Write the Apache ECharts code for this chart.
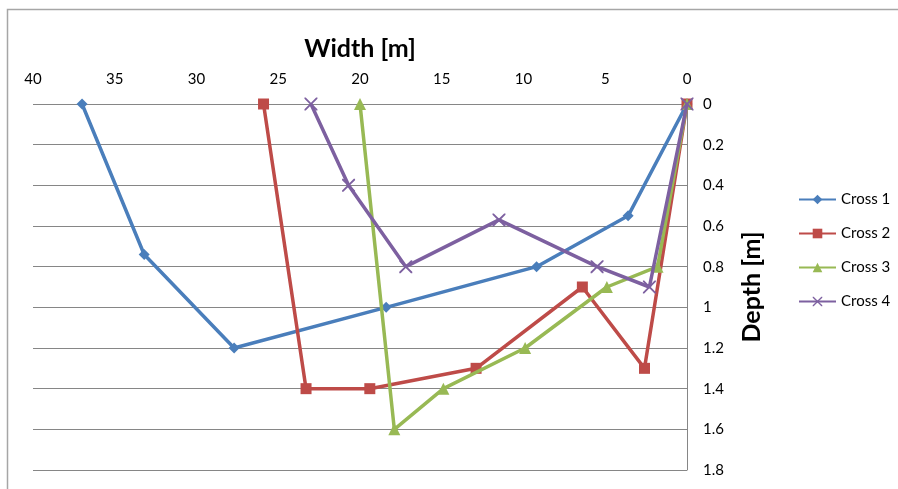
<!DOCTYPE html>
<html>
<head>
<meta charset="utf-8">
<script src="https://cdn.jsdelivr.net/npm/echarts@6/dist/echarts.min.js"></script>
<style>
  html, body { margin: 0; padding: 0; background: #fff; }
  #chart { width: 898px; height: 489px; }
</style>
</head>
<body>
<div id="chart"></div>
<script>
// Cross-section profiles: [width (m), depth (m)]
const cross1 = [[37, 0], [33.2, 0.74], [27.7, 1.2], [18.4, 1.0], [9.2, 0.8], [3.6, 0.55], [0, 0]];
const cross2 = [[25.9, 0], [23.3, 1.4], [19.4, 1.4], [12.9, 1.3], [6.4, 0.9], [2.6, 1.3], [0, 0]];
const cross3 = [[20, 0], [17.9, 1.6], [14.9, 1.4], [9.9, 1.2], [4.9, 0.9], [1.8, 0.8], [0, 0]];
const cross4 = [[23, 0], [20.7, 0.4], [17.2, 0.8], [11.5, 0.57], [5.5, 0.8], [2.3, 0.9], [0, 0]];

const seriesNames = ['Cross 1', 'Cross 2', 'Cross 3', 'Cross 4'];
const seriesData = [cross1, cross2, cross3, cross4];
const colors = ['#4A7EBB', '#BE4B48', '#98B954', '#7D60A0'];
const symbols = [
  'diamond',
  'rect',
  'triangle',
  'path://M0,0L1,0L5,4L9,0L10,0L10,1L6,5L10,9L10,10L9,10L5,6L1,10L0,10L0,9L4,5L0,1Z'
];
const symbolSizes = [11, 11, 12, 13];

const FONT = 'Lato, "Open Sans", sans-serif';

const chart = echarts.init(document.getElementById('chart'));

chart.setOption({
  animation: false,
  backgroundColor: '#fff',
  textStyle: { fontFamily: FONT },
  graphic: [{
    type: 'rect',
    left: 5, top: 7,
    shape: { width: 900, height: 490 },
    style: { fill: 'none', stroke: '#a6a6a6', lineWidth: 1.5 },
    silent: true
  }],
  grid: { left: 33, right: 211, top: 104, bottom: 19, containLabel: false },
  legend: {
    orient: 'vertical',
    left: 793,
    top: 187,
    itemWidth: 37,
    itemHeight: 12,
    itemGap: 19,
    textStyle: { fontFamily: FONT, fontSize: 15, color: '#000' },
    data: seriesNames
  },
  xAxis: {
    type: 'value',
    position: 'top',
    inverse: true,
    min: 0, max: 40, interval: 5,
    name: 'Width [m]',
    nameLocation: 'middle',
    nameGap: 43,
    nameTextStyle: { fontFamily: FONT, fontSize: 25, fontWeight: 'bold', color: '#000' },
    axisLine: { show: false },
    axisTick: { show: false },
    splitLine: { show: false },
    axisLabel: { margin: 17, fontSize: 15, color: '#000', fontFamily: FONT }
  },
  yAxis: {
    type: 'value',
    position: 'right',
    inverse: true,
    min: 0, max: 1.8, interval: 0.2,
    name: 'Depth [m]',
    nameLocation: 'middle',
    nameGap: 52,
    nameRotate: 90,
    nameTextStyle: { fontFamily: FONT, fontSize: 25, fontWeight: 'bold', color: '#000' },
    axisLine: { show: true, lineStyle: { color: '#868686', width: 1 } },
    axisTick: { show: false },
    splitLine: { show: true, lineStyle: { color: '#868686', width: 1 } },
    axisLabel: { margin: 16, fontSize: 15, color: '#000', fontFamily: FONT }
  },
  series: seriesNames.map((name, i) => ({
    name: name,
    type: 'line',
    data: seriesData[i],
    symbol: symbols[i],
    symbolSize: symbolSizes[i],
    showSymbol: true,
    z: 2 + i,
    lineStyle: { color: colors[i], width: 3.5 },
    itemStyle: { color: colors[i] }
  }))
});
</script>
</body>
</html>
